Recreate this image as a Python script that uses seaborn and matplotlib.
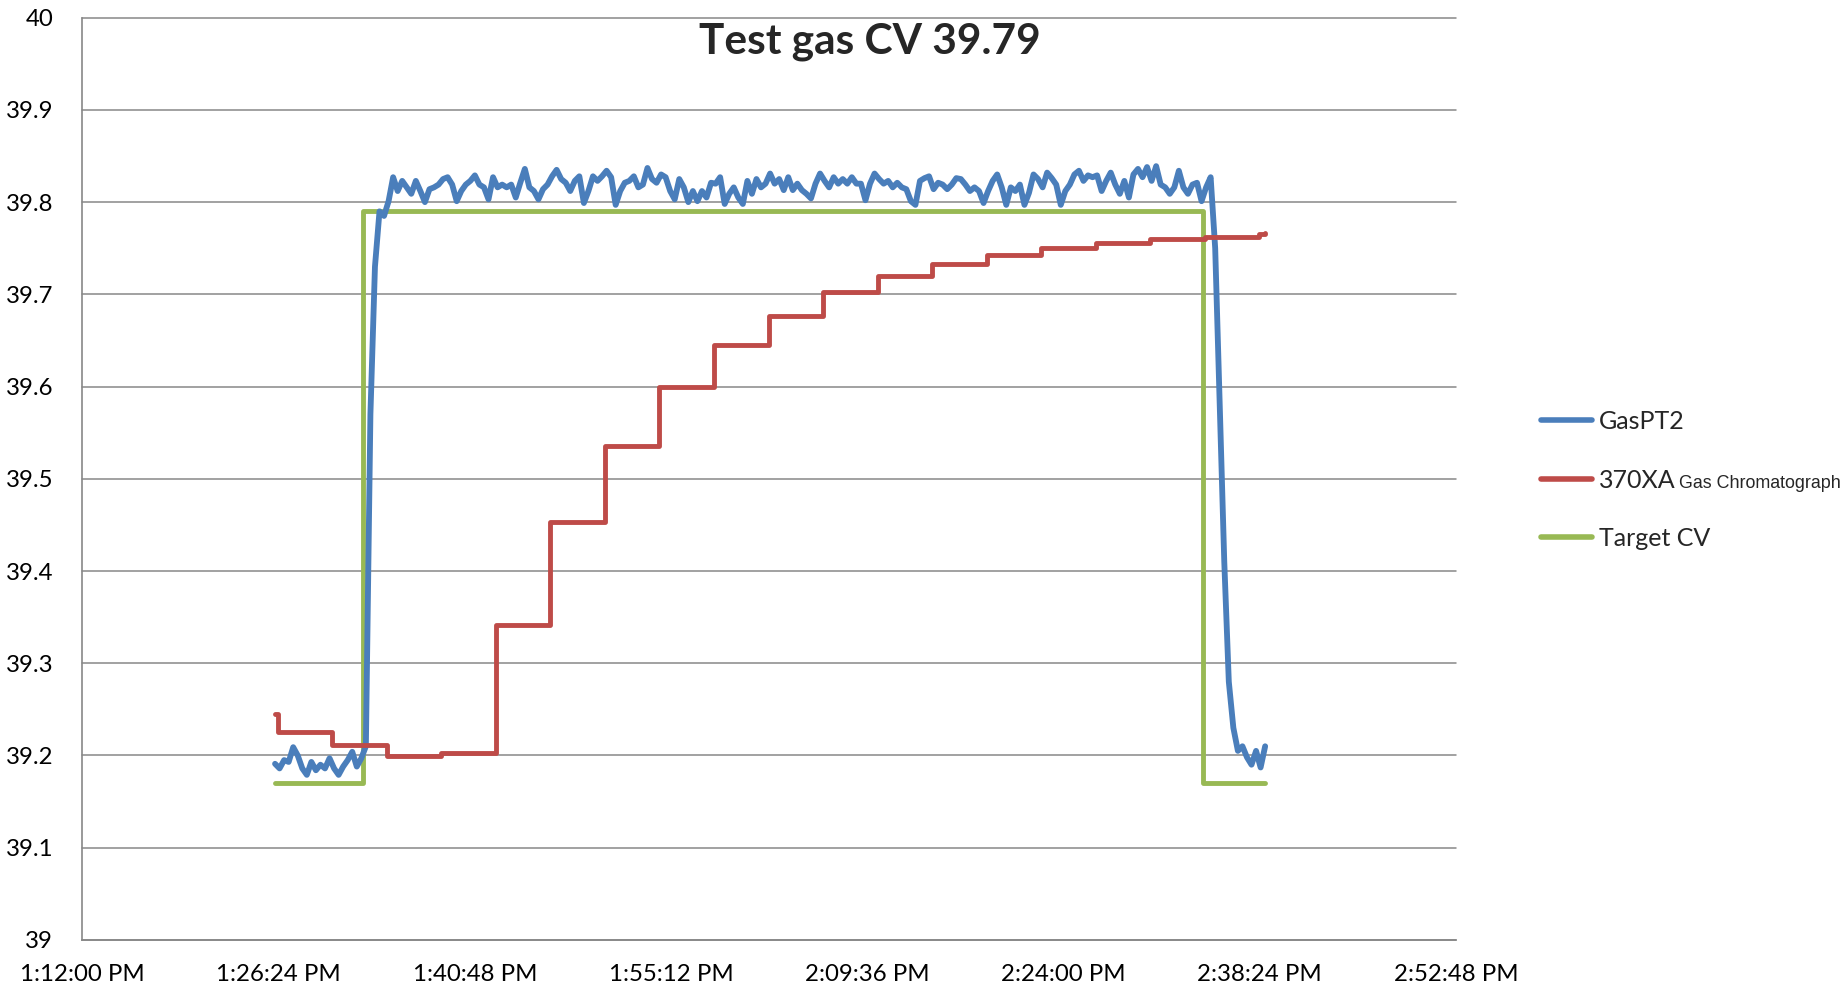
import numpy as np
import pandas as pd
import matplotlib
matplotlib.use("Agg")
import matplotlib.pyplot as plt
import seaborn as sns

# ---------------- data ----------------
title = "Test gas CV 39.79"
x_tick_labels = ["1:12:00 PM", "1:26:24 PM", "1:40:48 PM", "1:55:12 PM",
                 "2:09:36 PM", "2:24:00 PM", "2:38:24 PM", "2:52:48 PM"]
y_ticks = [39.0, 39.1, 39.2, 39.3, 39.4, 39.5, 39.6, 39.7, 39.8, 39.9, 40.0]

series_names = ["GasPT2", "370XA", "Target CV"]
gc_suffix = "Gas Chromatograph"

# GasPT2: one reading every 20 s starting at 13:26:08
gaspt2_start = "13:26:08"
gaspt2_interval_s = 20
gaspt2_values = [
    39.191, 39.186, 39.195, 39.193, 39.209, 39.200, 39.186, 39.179, 39.193, 39.184,
    39.190, 39.186, 39.197, 39.186, 39.179, 39.188, 39.195, 39.204, 39.188, 39.197,
    39.210,
    39.57, 39.73, 39.79, 39.785, 39.801,
    39.827, 39.812, 39.823, 39.816, 39.809, 39.823, 39.812, 39.800, 39.814, 39.816,
    39.819, 39.825, 39.827, 39.819, 39.801, 39.812, 39.819, 39.823, 39.829, 39.819,
    39.816, 39.803, 39.827, 39.816, 39.819, 39.816, 39.819, 39.805, 39.821, 39.836,
    39.816, 39.812, 39.803,
    39.814, 39.819, 39.828, 39.835, 39.825, 39.821, 39.812, 39.823, 39.828, 39.799,
    39.812, 39.828, 39.823, 39.828, 39.834, 39.827, 39.797, 39.812, 39.821, 39.823,
    39.828, 39.816, 39.819, 39.837, 39.825, 39.821, 39.830, 39.827, 39.812, 39.803,
    39.825, 39.816, 39.800, 39.812, 39.801, 39.812, 39.805, 39.821,
    39.820, 39.827, 39.798, 39.809, 39.816, 39.805, 39.798, 39.823, 39.809, 39.825,
    39.816, 39.820, 39.831, 39.820, 39.825, 39.813, 39.827, 39.813, 39.820, 39.813,
    39.809, 39.804, 39.820, 39.831, 39.823, 39.816, 39.827, 39.820, 39.825, 39.820,
    39.827, 39.820, 39.820, 39.802, 39.820, 39.831, 39.825, 39.820, 39.823,
    39.816, 39.821, 39.816, 39.814, 39.801, 39.797, 39.823, 39.826, 39.828, 39.814,
    39.821, 39.819, 39.814, 39.819, 39.826, 39.825, 39.819, 39.812, 39.816, 39.812,
    39.799, 39.812, 39.823, 39.830, 39.816, 39.797, 39.816, 39.812, 39.819, 39.797,
    39.810, 39.830, 39.825, 39.816, 39.832, 39.826, 39.819, 39.797, 39.812,
    39.819, 39.830, 39.834, 39.823, 39.829, 39.827, 39.829, 39.812, 39.823, 39.832,
    39.819, 39.809, 39.823, 39.805, 39.830, 39.836, 39.827, 39.838, 39.823, 39.839,
    39.819, 39.816, 39.809, 39.816, 39.834, 39.816, 39.809, 39.819, 39.821, 39.801,
    39.816, 39.827,
    39.75, 39.58, 39.41, 39.28, 39.23, 39.205, 39.21, 39.198, 39.19, 39.205,
    39.187, 39.21,
]

# 370XA gas chromatograph: value held until next reading
gc_times = ["13:26:08", "13:26:21", "13:30:21", "13:34:21", "13:38:21", "13:42:21",
            "13:46:21", "13:50:21", "13:54:21", "13:58:21", "14:02:21", "14:06:21",
            "14:10:21", "14:14:21", "14:18:21", "14:22:21", "14:26:21", "14:30:21",
            "14:34:21", "14:38:21", "14:38:48"]
gc_values = [39.245, 39.226, 39.211, 39.199, 39.203, 39.342, 39.453, 39.536, 39.600,
             39.645, 39.677, 39.703, 39.720, 39.733, 39.743, 39.750, 39.756, 39.760,
             39.762, 39.765, 39.766]

# Target CV
target_times = ["13:26:08", "13:32:35", "14:34:14", "14:38:48"]
target_values = [39.17, 39.79, 39.17, 39.17]

# ---------------- styling ----------------
BLUE = "#4A7EBB"
RED = "#BE4B48"
GREEN = "#98B954"
GRID = "#878787"

sns.set_style("white")
plt.rcParams["font.family"] = ["Lato", "DejaVu Sans"]

fmt = "%H:%M:%S"
t_blue = pd.date_range(pd.to_datetime(gaspt2_start, format=fmt),
                       periods=len(gaspt2_values), freq=f"{gaspt2_interval_s}s")
df_blue = pd.DataFrame({"time": t_blue, "cv": gaspt2_values})
df_gc = pd.DataFrame({"time": pd.to_datetime(gc_times, format=fmt), "cv": gc_values})
df_tg = pd.DataFrame({"time": pd.to_datetime(target_times, format=fmt), "cv": target_values})
tick_dates = pd.to_datetime(x_tick_labels, format="%I:%M:%S %p")

fig = plt.figure(figsize=(18.49, 9.86), dpi=100)
ax = fig.add_axes([0.0446, 0.0467, 0.7428, 0.9354])

sns.lineplot(data=df_blue, x="time", y="cv", ax=ax, color=BLUE, linewidth=4.2,
             estimator=None, sort=False, label=series_names[0],
             solid_joinstyle="round", solid_capstyle="round", zorder=3)
sns.lineplot(data=df_gc, x="time", y="cv", ax=ax, color=RED, linewidth=3.5,
             estimator=None, sort=False, label=series_names[1],
             drawstyle="steps-post", solid_joinstyle="round", solid_capstyle="round", zorder=4)
sns.lineplot(data=df_tg, x="time", y="cv", ax=ax, color=GREEN, linewidth=3.5,
             estimator=None, sort=False, label=series_names[2],
             drawstyle="steps-post", solid_joinstyle="round", solid_capstyle="round", zorder=2)

handles, labels = ax.get_legend_handles_labels()
ax.get_legend().remove()

ax.set_xlim(tick_dates[0], tick_dates[-1])
ax.set_ylim(y_ticks[0], y_ticks[-1])
ax.set_xticks(tick_dates)
ax.set_xticklabels(x_tick_labels)
ax.set_yticks(y_ticks)
ax.set_yticklabels([f"{v:g}" for v in y_ticks])
ax.set_xlabel("")
ax.set_ylabel("")

ax.grid(axis="y", color=GRID, linewidth=1.1)
ax.grid(axis="x", visible=False)
for gl in ax.get_ygridlines():
    gl.set_clip_on(False)
ax.set_axisbelow(True)

for s in ["top", "right"]:
    ax.spines[s].set_visible(False)
for s in ["left", "bottom"]:
    ax.spines[s].set_color(GRID)
    ax.spines[s].set_linewidth(1.2)

ax.tick_params(axis="y", direction="out", length=5, width=1.1, color=GRID,
               pad=16, labelsize=17.3, labelcolor="black")
ax.tick_params(axis="x", direction="out", length=5, width=1.1, color=GRID,
               pad=12, labelsize=17.3, labelcolor="black")

fig.text(0.4705, 0.946, title, ha="center", va="baseline",
         fontsize=30.5, fontweight="bold", family=["Lato", "DejaVu Sans"])

leg = fig.legend(handles, labels, loc="center left", bbox_to_anchor=(0.8335, 0.513),
                 frameon=False, borderpad=0, borderaxespad=0, handlelength=2.05,
                 handletextpad=0.25, labelspacing=1.42, fontsize=18)
for h in leg.legend_handles:
    h.set_linewidth(4.0)
    h.set_solid_capstyle("round")

fig.canvas.draw()
renderer = fig.canvas.get_renderer()
t370 = leg.get_texts()[1]
bb = t370.get_window_extent(renderer)
_, _, desc = renderer.get_text_width_height_descent("lp", t370.get_fontproperties(), ismath=False)
baseline = bb.y0 + desc
fig.text((bb.x1 + 4) / fig.bbox.width, baseline / fig.bbox.height, gc_suffix,
         ha="left", va="baseline", fontsize=12.9, family=["Liberation Sans", "DejaVu Sans"])

fig.savefig("out.png", dpi=100)
